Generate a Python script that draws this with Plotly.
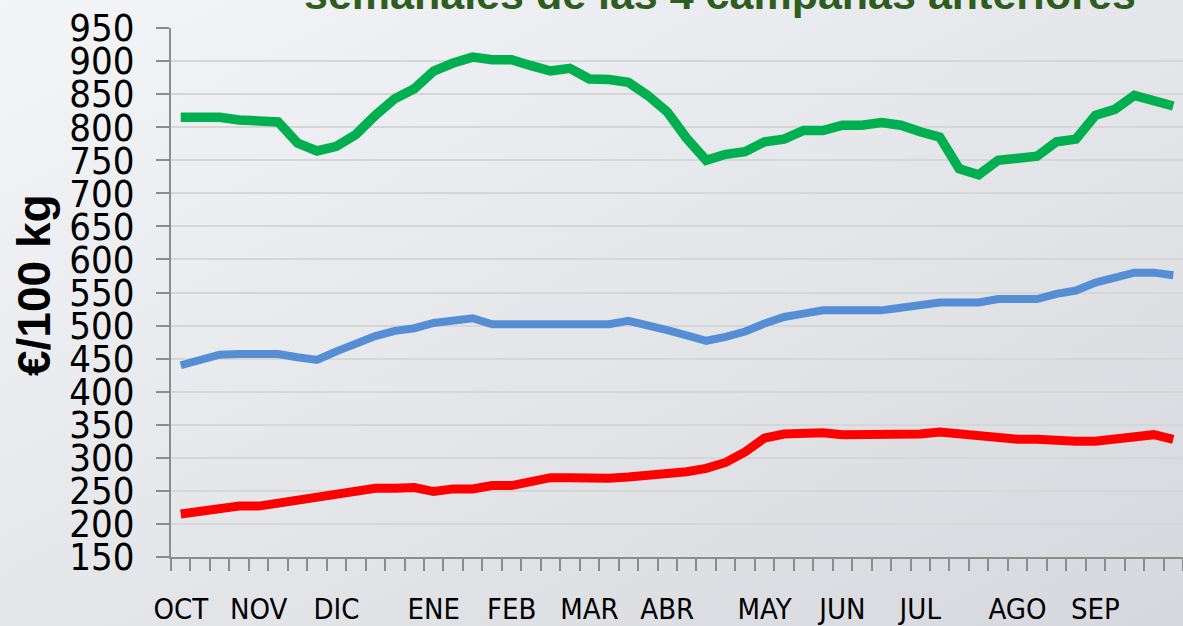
import base64
import plotly.graph_objects as go

# ---- data ----
weeks = list(range(52))
month_labels = ["OCT", "NOV", "DIC", "ENE", "FEB", "MAR", "ABR", "MAY", "JUN", "JUL", "AGO", "SEP"]
month_weeks = [0, 4, 8, 13, 17, 21, 25, 30, 34, 38, 43, 47]

green_vals = [815, 815, 815, 811, 808, 808, 776, 764, 771, 789, 818, 843, 858, 885, 897, 906,
              902, 902, 893, 885, 889, 873, 872, 868, 848, 823, 783, 750, 759, 763, 778, 782,
              795, 795, 803, 803, 807, 803, 793, 785, 737, 728, 750, 753, 756, 778, 782, 818,
              827, 848, 841, 832]
blue_vals = [440, 448, 456, 457, 457, 457, 452, 448, 461, 474, 484, 492, 496, 504, 508, 511,
             502, 502, 502, 502, 502, 502, 502, 507, 501, 493, 485, 477, 483, 491, 503, 513,
             518, 523, 523, 523, 523, 527, 531, 535, 535, 535, 540, 540, 540, 548, 553, 565,
             572, 580, 580, 576]
red_vals = [215, 219, 223, 227, 227, 231, 236, 240, 245, 250, 254, 254, 255, 249, 253, 253,
            258, 258, 263, 270, 270, 269, 269, 271, 274, 274, 279, 284, 293, 309, 330, 336,
            338, 338, 335, 335, 333, 333, 336, 339, 336, 332, 332, 328, 328, 325, 325, 325,
            328, 332, 335, 328]

title_text = "semanales de las 4 campañas anteriores"
y_title = "€/100 kg"

W, H = 1183, 626
ML, MR, MT, MB = 171, 0, 28, 69

fig = go.Figure()
fig.add_trace(go.Scatter(x=weeks, y=red_vals, mode="lines",
                         line=dict(color="#ff0000", width=9), showlegend=False))
fig.add_trace(go.Scatter(x=weeks, y=blue_vals, mode="lines",
                         line=dict(color="#558ed5", width=8), showlegend=False))
fig.add_trace(go.Scatter(x=weeks, y=green_vals, mode="lines",
                         line=dict(color="#00b050", width=9.5), showlegend=False))

svg = (
    f'<svg xmlns="http://www.w3.org/2000/svg" width="{W}" height="{H}">'
    '<defs><linearGradient id="g" x1="0" y1="0" x2="1" y2="1">'
    '<stop offset="0" stop-color="#f4f5f7"/><stop offset="1" stop-color="#d6d8dd"/>'
    '</linearGradient></defs>'
    f'<rect width="{W}" height="{H}" fill="url(#g)"/></svg>'
)
src = "data:image/svg+xml;base64," + base64.b64encode(svg.encode()).decode()
pw, ph = W - ML - MR, H - MT - MB
fig.add_layout_image(dict(source=src, xref="paper", yref="paper",
                          x=-ML / pw, y=1 + MT / ph, sizex=W / pw, sizey=H / ph,
                          xanchor="left", yanchor="top", sizing="stretch", layer="below"))

tick_font = "Liberation Sans Narrow, DejaVu Sans Condensed, Arial Narrow, sans-serif"

fig.update_layout(
    width=W, height=H,
    margin=dict(l=ML, r=MR, t=MT, b=MB, autoexpand=False),
    paper_bgcolor="rgba(0,0,0,0)",
    plot_bgcolor="rgba(0,0,0,0)",
    xaxis=dict(
        automargin=False,
        range=[-0.5, len(weeks) - 0.5],
        tickmode="array", tickvals=month_weeks, ticktext=month_labels,
        ticks="", showgrid=False, zeroline=False,
        showline=True, linecolor="#8c8c8c", linewidth=2,
        tickfont=dict(family=tick_font, size=29, color="#000000"),
        ticklabelstandoff=25,
        minor=dict(tickmode="linear", tick0=-0.5, dtick=1, ticks="outside",
                   ticklen=12, tickwidth=2, tickcolor="#8c8c8c", showgrid=False),
    ),
    yaxis=dict(
        automargin=False,
        range=[150, 950], tickmode="linear", tick0=150, dtick=50,
        ticks="outside", ticklen=13, tickwidth=2, tickcolor="#8c8c8c",
        showline=True, linecolor="#8c8c8c", linewidth=2,
        showgrid=True, gridcolor="#d6d6d6", gridwidth=2, zeroline=False,
        tickfont=dict(family=tick_font, size=38, color="#000000"),
        ticklabelstandoff=14,
    ),
    annotations=[
        dict(text=f"<b>{y_title}</b>", xref="paper", yref="paper",
             x=(34 - ML) / pw, y=(H - MB - 285) / ph, xanchor="center", yanchor="middle",
             textangle=-90, showarrow=False,
             font=dict(family="Liberation Sans, Arial, sans-serif", size=46, color="#000000")),
        dict(text=f"<b>{title_text}</b>", xref="paper", yref="paper",
             x=(720 - ML) / pw, y=(H - MB - 20) / ph, xanchor="center", yanchor="bottom",
             showarrow=False,
             font=dict(family="Liberation Sans, Arial, sans-serif", size=43, color="#2e5e1f")),
    ],
)

fig.write_html(
    "out.html",
    config={"displayModeBar": False, "staticPlot": True},
    post_script=(
        "document.documentElement.style.margin='0px';"
        "document.body.style.margin='0px';"
        "document.body.style.fontSize='0px';"
        "document.body.style.lineHeight='0px';"
        "document.documentElement.style.overflow='hidden';"
        "document.body.style.overflow='hidden';"
    ),
)
